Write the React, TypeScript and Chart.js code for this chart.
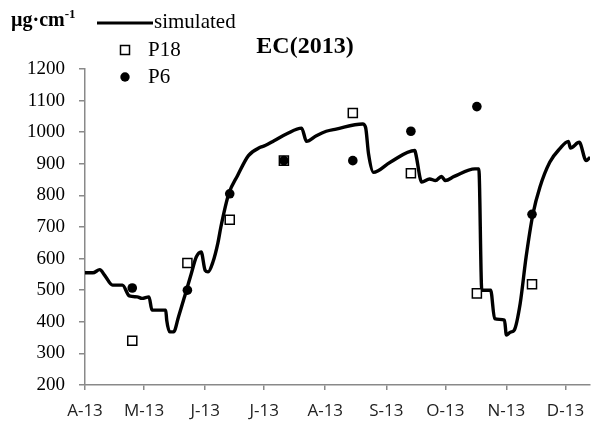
import React, { useEffect, useRef } from "react";
import { Chart, registerables } from "chart.js";

Chart.register(...registerables);

// x = days since 1 April 2013
const monthTicks = [0, 30, 61, 91, 122, 153, 183, 214, 244];
const monthLabels = ["A-13", "M-13", "J-13", "J-13", "A-13", "S-13", "O-13", "N-13", "D-13"];

const simDays = [
  0, 4, 7.5, 10, 14, 19, 22.5, 26.5, 29, 32.5, 34, 41, 41.5, 43, 45, 47.5, 51, 54, 56.5, 59,
  61, 62.5, 65, 67.5, 69, 73, 77.5, 83, 89, 91.5, 96, 102.5, 110, 112.5, 117.5, 122.5, 127.5,
  141, 142.5, 144, 146.5, 155, 167.5, 168, 171, 175, 178, 181, 183, 187.5, 198, 200, 201.5,
  206, 208, 213, 214, 216, 218, 221, 224, 227.5, 231, 236, 241, 245.5, 246.5, 251, 254.5, 256.5,
];
const simValues = [
  555, 555, 565, 547, 516, 516, 482, 479, 474, 479, 437, 437, 405, 368, 368, 416, 489, 553, 605, 621,
  563, 558, 590, 650, 700, 805, 863, 926, 952, 958, 973, 995, 1013, 971, 989, 1003, 1010,
  1026, 1015, 931, 873, 905, 942, 931, 842, 852, 847, 860, 847, 860, 884, 884, 500,
  500, 410, 405, 358, 367, 374, 458, 605, 742, 826, 905, 947, 971, 950, 968, 910, 921,
];

const sampleDays = [24, 52, 73.5, 101, 136, 165.5, 199, 227];
const p18Values = [340, 586, 723, 910, 1061, 870, 490, 519];
const p6Values = [507, 500, 805, 910, 910, 1003, 1081, 740];

const yTicks = [200, 300, 400, 500, 600, 700, 800, 900, 1000, 1100, 1200];

const SERIF = "'Liberation Serif', 'Times New Roman', serif";
const SANS = "'Open Sans', 'Liberation Sans', sans-serif";
const AXIS = "#898989";

export default function App() {
  const ref = useRef<HTMLCanvasElement | null>(null);

  useEffect(() => {
    document.body.style.margin = "0";
    const canvas = ref.current;
    if (!canvas) return;

    const overlay = {
      id: "overlay",
      afterDraw(chart: any) {
        const ctx = chart.ctx as CanvasRenderingContext2D;
        ctx.save();
        // title
        ctx.fillStyle = "#000";
        ctx.font = `bold 24px ${SERIF}`;
        ctx.textAlign = "center";
        ctx.textBaseline = "middle";
        ctx.fillText("EC(2013)", 305, 47);

        // unit label
        ctx.textAlign = "left";
        ctx.textBaseline = "alphabetic";
        ctx.font = `bold 20px ${SERIF}`;
        const unit = "µg·cm";
        ctx.fillText(unit, 11, 26);
        const w = ctx.measureText(unit).width;
        ctx.font = `bold 13px ${SERIF}`;
        ctx.fillText("-1", 11 + w, 18);

        // legend
        ctx.font = `21px ${SERIF}`;
        ctx.textBaseline = "middle";
        ctx.strokeStyle = "#000";
        ctx.lineWidth = 3;
        ctx.beginPath();
        ctx.moveTo(97, 23);
        ctx.lineTo(153, 23);
        ctx.stroke();
        ctx.fillText("simulated", 154, 22);

        ctx.lineWidth = 1.5;
        ctx.fillStyle = "#fff";
        ctx.fillRect(120.5, 45.5, 9, 9);
        ctx.strokeRect(120.5, 45.5, 9, 9);
        ctx.fillStyle = "#000";
        ctx.fillText("P18", 148, 50);

        ctx.beginPath();
        ctx.arc(125, 77, 4.7, 0, Math.PI * 2);
        ctx.fill();
        ctx.fillText("P6", 148, 77);
        ctx.restore();
      },
    };

    const chart = new Chart(canvas, {
      type: "line",
      data: {
        datasets: [
          {
            label: "simulated",
            data: simDays.map((d, i) => ({ x: d, y: simValues[i] })),
            borderColor: "#000",
            borderWidth: 3.4,
            pointRadius: 0,
            cubicInterpolationMode: "monotone",
            fill: false,
            order: 3,
          },
          {
            label: "P18",
            data: sampleDays.map((d, i) => ({ x: d, y: p18Values[i] })),
            showLine: false,
            pointStyle: "rect",
            pointRadius: 6.4,
            pointBorderWidth: 1.5,
            pointBackgroundColor: "#fff",
            pointBorderColor: "#000",
            order: 2,
          },
          {
            label: "P6",
            data: sampleDays.map((d, i) => ({ x: d, y: p6Values[i] })),
            showLine: false,
            pointStyle: "circle",
            pointRadius: 4.8,
            pointBorderWidth: 0,
            pointBackgroundColor: "#000",
            pointBorderColor: "#000",
            order: 1,
          },
        ],
      },
      options: {
        animation: false,
        responsive: true,
        maintainAspectRatio: false,
        layout: { padding: { top: 69, right: 0, left: 0, bottom: 0 } },
        plugins: {
          legend: { display: false },
          tooltip: { enabled: false },
          title: { display: false },
        },
        scales: {
          x: {
            type: "linear",
            min: 0,
            max: 256.5,
            afterBuildTicks: (scale: any) => {
              scale.ticks = monthTicks.map((v) => ({ value: v }));
            },
            afterFit: (scale: any) => {
              scale.height = 40;
            },
            ticks: {
              autoSkip: false,
              maxRotation: 0,
              padding: 11,
              color: "#222",
              font: { family: SANS, size: 17 },
              callback: (value: any) => {
                const i = monthTicks.indexOf(Number(value));
                return i >= 0 ? monthLabels[i] : "";
              },
            },
            grid: {
              display: true,
              drawOnChartArea: false,
              drawTicks: true,
              tickLength: 5,
              color: AXIS,
              lineWidth: 1.5,
            },
            border: { display: true, color: AXIS, width: 1.5 },
          },
          y: {
            type: "linear",
            min: 200,
            max: 1200,
            afterBuildTicks: (scale: any) => {
              scale.ticks = yTicks.map((v) => ({ value: v }));
            },
            afterFit: (scale: any) => {
              scale.width = 85;
            },
            ticks: {
              padding: 14,
              color: "#000",
              font: { family: SERIF, size: 19 },
              callback: (value: any) => String(value),
            },
            grid: {
              display: true,
              drawOnChartArea: false,
              drawTicks: true,
              tickLength: 6,
              color: AXIS,
              lineWidth: 1.5,
            },
            border: { display: true, color: AXIS, width: 1.5 },
          },
        },
      },
      plugins: [overlay],
    } as any);

    return () => chart.destroy();
  }, []);

  return (
    <div style={{ position: "absolute", left: 0, top: 0, width: 598, height: 425 }}>
      <canvas ref={ref} />
    </div>
  );
}
